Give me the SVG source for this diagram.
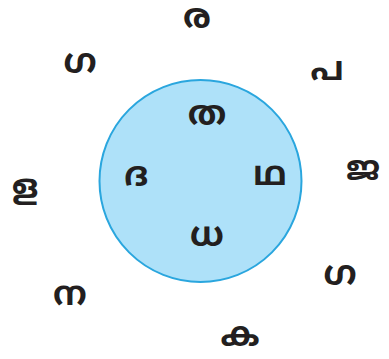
<svg xmlns="http://www.w3.org/2000/svg" width="389" height="359" viewBox="0 0 389 359">
<style>
text{font-family:"Noto Sans Malayalam","Noto Sans","DejaVu Sans",sans-serif;font-weight:bold;font-size:34px;fill:#231f20;text-anchor:middle;dominant-baseline:central}
</style>
<rect width="389" height="359" fill="#ffffff"/>
<g id="circle"><circle cx="200.5" cy="181" r="101" fill="#aee1f9" stroke="#2aa6de" stroke-width="2"/></g>
<g id="connectors"></g>
<g id="n-ra"><text x="197" y="20">ര</text></g>
<g id="n-ga1"><text x="80" y="65">ഗ</text></g>
<g id="n-pa"><text x="327" y="72">പ</text></g>
<g id="n-la"><text x="25" y="190">ള</text></g>
<g id="n-ja"><text x="363" y="172">ജ</text></g>
<g id="n-ga2"><text x="340" y="277">ഗ</text></g>
<g id="n-na"><text x="70" y="297">ന</text></g>
<g id="n-ka"><text x="240" y="338">ക</text></g>
<g id="n-tha"><text x="207" y="117">ത</text></g>
<g id="n-da"><text x="136" y="178">ദ</text></g>
<g id="n-ttha"><text x="270" y="177">ഥ</text></g>
<g id="n-dha"><text x="207" y="238">ധ</text></g>
</svg>
